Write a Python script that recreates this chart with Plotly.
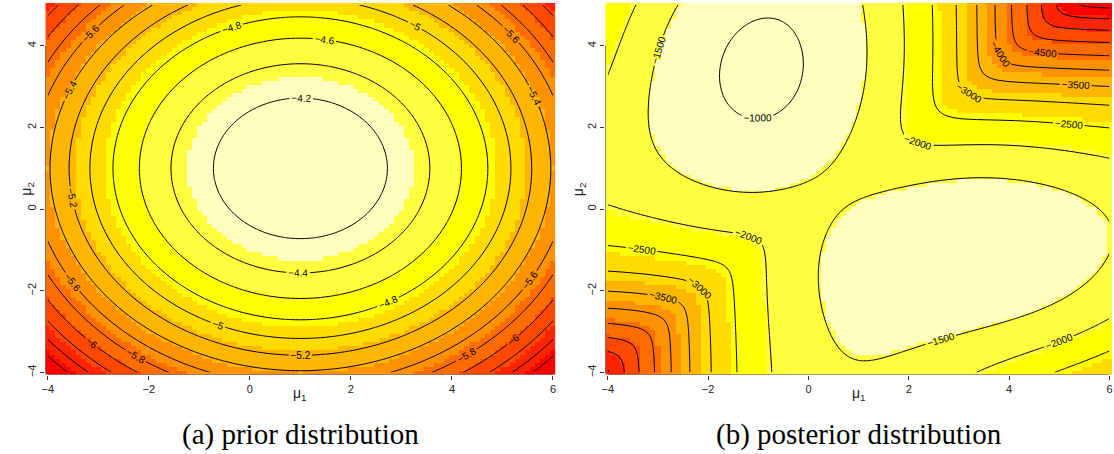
import numpy as np
import plotly.graph_objects as go

# ---- evaluation grid for (mu1, mu2) ----
mu1 = np.round(np.arange(-4.0, 6.0001, 0.1), 2)
mu2 = np.round(np.arange(-4.0, 5.0001, 0.1), 2)

# ---- prior: independent normals on both means ----
prior_mean = (1.0, 1.0)
prior_sd = 3.0

# ---- two-component normal mixture model ----
n_obs = 445
mix_weight = 0.74          # weight of component 1 in the model
comp_sd = 1.0
# population the observations are drawn from
data_share = 0.67          # share of observations around the first centre
true_means = (-0.95, 3.4)
data_sd = 1.0

# contour levels drawn on each panel
prior_levels = dict(start=-6.6, end=-4.2, size=0.2)
post_levels = dict(start=-6500, end=-1000, size=500)

# heat palette with 10 bands (red -> pale yellow)
heat10 = ["#FF0000", "#FF2400", "#FF4900", "#FF6D00", "#FF9200",
          "#FFB600", "#FFDB00", "#FFFF00", "#FFFF40", "#FFFFBF"]

x_ticks = [-4, -2, 0, 2, 4, 6]
y_ticks = [-4, -2, 0, 2, 4]


def norm_pdf(u, sd):
    return np.exp(-0.5 * (u / sd) ** 2) / (np.sqrt(2 * np.pi) * sd)


M1, M2 = np.meshgrid(mu1, mu2)

log_prior = (-np.log(2 * np.pi * prior_sd ** 2)
             - ((M1 - prior_mean[0]) ** 2 + (M2 - prior_mean[1]) ** 2) / (2 * prior_sd ** 2))

# expected mixture log-likelihood of n_obs observations (quadrature over x)
xs = np.linspace(-9.0, 12.0, 1051)
dx = xs[1] - xs[0]
dens = data_share * norm_pdf(xs - true_means[0], data_sd) + \
    (1 - data_share) * norm_pdf(xs - true_means[1], data_sd)
w = n_obs * dens * dx

X = xs[None, None, :]
l1 = np.log(mix_weight) + np.log(norm_pdf(X - M1[:, :, None], comp_sd))
l2 = np.log(1 - mix_weight) + np.log(norm_pdf(X - M2[:, :, None], comp_sd))
lmax = np.maximum(l1, l2)
loglik = (w * (lmax + np.log(np.exp(l1 - lmax) + np.exp(l2 - lmax)))).sum(axis=2)
log_post = loglik + log_prior


def band_scale(colors):
    k = len(colors)
    scale = []
    for i, c in enumerate(colors):
        scale.append([i / k, c])
        scale.append([(i + 1) / k, c])
    return scale


fig = go.Figure()

for z, lev, xa, ya in [(log_prior, prior_levels, "x", "y"),
                       (log_post, post_levels, "x2", "y2")]:
    fig.add_trace(go.Heatmap(
        x=mu1, y=mu2, z=z, zmin=float(z.min()), zmax=float(z.max()),
        colorscale=band_scale(heat10), showscale=False, hoverinfo="skip",
        xaxis=xa, yaxis=ya))
    fig.add_trace(go.Contour(
        x=mu1, y=mu2, z=z, autocontour=False,
        contours=dict(coloring="lines", showlabels=True,
                      labelfont=dict(size=10, color="black",
                                     family="Liberation Sans"), **lev),
        colorscale=[[0, "black"], [1, "black"]], showscale=False,
        line=dict(width=1), hoverinfo="skip", xaxis=xa, yaxis=ya))

W, H = 1114, 454
top, bottom = 3, 377
left_dom = [41.5 / W, 554.0 / W]
right_dom = [604.0 / W, 1113.0 / W]
y_dom = [1 - bottom / H, 1 - top / H]

xr = [mu1[0] - 0.05, mu1[-1] + 0.05]
yr = [mu2[0] - 0.05, mu2[-1] + 0.05]

tick_font = dict(family="Liberation Sans", size=11, color="#222")
axis_common = dict(showgrid=False, zeroline=False, ticks="outside", ticklen=4,
                   tickcolor="#333", tickwidth=1, tickfont=tick_font,
                   showline=False)

fig.update_layout(
    width=W, height=H, margin=dict(l=0, r=0, t=0, b=0),
    paper_bgcolor="white", plot_bgcolor="white", showlegend=False,
    xaxis=dict(domain=left_dom, range=xr, tickvals=x_ticks, anchor="y", **axis_common),
    yaxis=dict(domain=y_dom, range=yr, tickvals=y_ticks, anchor="x",
               tickangle=-90, **axis_common),
    xaxis2=dict(domain=right_dom, range=xr, tickvals=x_ticks, anchor="y2", **axis_common),
    yaxis2=dict(domain=y_dom, range=yr, tickvals=y_ticks, anchor="x2",
                tickangle=-90, **axis_common),
)

# axis lines spanning the tick range only
shapes = []
for xa, ya in [("x", "y"), ("x2", "y2")]:
    shapes.append(dict(type="line", xref=xa, yref=ya, x0=x_ticks[0], x1=x_ticks[-1],
                       y0=yr[0], y1=yr[0], line=dict(color="#333", width=1)))
    shapes.append(dict(type="line", xref=xa, yref=ya, x0=xr[0], x1=xr[0],
                       y0=y_ticks[0], y1=y_ticks[-1], line=dict(color="#333", width=1)))
fig.update_layout(shapes=shapes)

label_font = dict(family="Liberation Sans", size=14, color="#222")
cap_font = dict(family="Liberation Serif", size=29, color="black")
ann = []
for dom, cap in [(left_dom, "(a) prior distribution"),
                 (right_dom, "(b) posterior distribution")]:
    cx = (dom[0] + dom[1]) / 2
    ann.append(dict(text="μ<sub>1</sub>", x=cx, y=1 - 397 / H, xref="paper", yref="paper",
                    showarrow=False, font=label_font, xanchor="center", yanchor="middle"))
    ann.append(dict(text=cap, x=cx, y=1 - 437 / H, xref="paper", yref="paper",
                    showarrow=False, font=cap_font, xanchor="center", yanchor="middle"))
ann.append(dict(text="μ<sub>2</sub>", x=12 / W, y=1 - 190 / H, xref="paper", yref="paper",
                showarrow=False, font=label_font, textangle=-90))
ann.append(dict(text="μ<sub>2</sub>", x=577 / W, y=1 - 190 / H, xref="paper", yref="paper",
                showarrow=False, font=label_font, textangle=-90))
fig.update_layout(annotations=ann)

fig.write_html("out.html")
